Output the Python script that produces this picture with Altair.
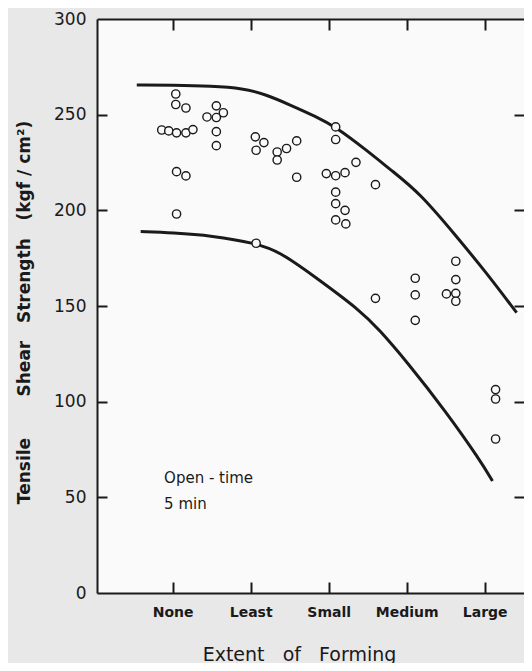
import altair as alt
import pandas as pd

# ---- data ----
categories = ["None", "Least", "Small", "Medium", "Large"]
cat_pos = [0, 1, 2, 3, 4]
y_tick_values = [0, 50, 100, 150, 200, 250, 300]
inner_y_ticks = [50, 100, 150, 200, 250]

pt_x = [0.04, 0.04, 0.17, 0.56, 0.65, 0.44, 0.56, -0.14, -0.05, 0.05, 0.17, 0.26,
        0.56, 0.56, 1.06, 1.17, 1.07, 1.34, 1.34, 1.46, 1.59, 1.59, 2.09, 2.09,
        2.35, 1.97, 2.09, 2.21, 2.60, 2.09, 2.09, 2.21, 2.09, 2.22, 0.05, 0.17,
        0.05, 1.07, 3.11, 3.11, 3.11, 3.63, 3.63, 3.51, 3.63, 3.63, 4.14, 4.14,
        4.14, 2.60]
pt_y = [260.8, 255.3, 253.5, 254.6, 251.0, 248.8, 248.5, 242.0, 241.5, 240.5, 240.5, 242.2,
        241.1, 233.8, 238.4, 235.4, 231.4, 230.5, 226.3, 232.3, 236.3, 217.3, 243.6, 237.0,
        225.1, 219.2, 218.1, 219.7, 213.4, 209.5, 203.5, 200.0, 195.0, 192.9, 220.2, 218.0,
        198.1, 182.8, 164.5, 155.8, 142.5, 173.4, 163.8, 156.3, 156.6, 152.5, 106.3, 101.4,
        80.5, 154.0]

upper_x = [-0.46, 0.0, 0.5, 0.9, 1.2, 1.5, 1.84, 2.09, 2.48, 2.8, 3.17, 3.64, 4.0, 4.41]
upper_y = [265.5, 265.4, 265.0, 263.8, 260.5, 255.2, 249.0, 243.6, 231.6, 221.0, 209.0, 186.3, 168.5, 146.5]

lower_x = [-0.41, 0.0, 0.5, 1.07, 1.37, 1.8, 2.40, 2.65, 3.0, 3.5, 3.94, 4.10]
lower_y = [188.9, 188.3, 186.8, 182.8, 178.4, 166.0, 147.9, 137.5, 121.0, 95.0, 69.5, 58.5]

note_lines = ["Open\u00a0-\u00a0time", "5\u00a0min"]
note_x = [-0.11, -0.11]
note_y = [57.5, 43.9]

x_title = "Extent\u00a0\u00a0 of\u00a0\u00a0 Forming"
y_title = "Tensile\u00a0\u00a0\u00a0\u00a0\u00a0\u00a0 Shear\u00a0\u00a0 Strength\u00a0\u00a0 (kgf / cm\u00b2)"

W, H = 427, 574
FONT = "DejaVu Sans"
INK = "#1a1a1a"

x_min, x_max = -0.97, -0.97 + W / 78.0
y_min, y_max = 0, 300

# ---- tables ----
pts = pd.DataFrame({"x": pt_x, "y": pt_y})
curves = pd.concat([
    pd.DataFrame({"x": upper_x, "y": upper_y, "c": "upper", "o": range(len(upper_x))}),
    pd.DataFrame({"x": lower_x, "y": lower_y, "c": "lower", "o": range(len(lower_x))}),
])
notes = pd.DataFrame({"x": note_x, "y": note_y, "t": note_lines})

xs = alt.Scale(domain=[x_min, x_max], nice=False, zero=False)
ys = alt.Scale(domain=[y_min, y_max], nice=False, zero=False)

label_expr = "[" + ",".join("'%s'" % c for c in categories) + "][datum.value]"

# main labelled axes (left and bottom frame lines)
x_axis = alt.Axis(orient="bottom", values=cat_pos, labelExpr=label_expr, ticks=False,
                  grid=False, domainColor=INK, domainWidth=2, labelFont=FONT,
                  labelFontSize=14, labelFontWeight="bold", labelColor=INK, labelPadding=12,
                  title=x_title, titleFont=FONT, titleFontSize=19, titleFontWeight="normal",
                  titleColor=INK, titleX=202, titleY=67, titleAlign="center",
                  titleBaseline="alphabetic", labelFlush=False)
y_axis = alt.Axis(orient="left", values=y_tick_values, ticks=False, grid=False,
                  domainColor=INK, domainWidth=2, labelFont=FONT, labelFontSize=17,
                  labelColor=INK, labelPadding=11, labelFlush=False, labelBaseline="middle",
                  title=y_title, titleFont=FONT, titleFontSize=17, titleFontWeight="bold",
                  titleColor=INK, titleX=-73, titleY=293, titleAngle=270,
                  titleAlign="center", titleBaseline="middle")

# tick-only axes moved across the plot so that their ticks point inward
tick_opts = dict(labels=False, grid=False, ticks=True, tickColor=INK, tickWidth=2, title="")
ax_bottom_in = alt.Axis(orient="top", offset=-H, values=cat_pos, tickSize=11,
                        domain=False, **tick_opts)
ax_left_in = alt.Axis(orient="right", offset=-W, values=inner_y_ticks, tickSize=10,
                      domain=False, **tick_opts)
ax_top_in = alt.Axis(orient="bottom", offset=-H, values=cat_pos, tickSize=11,
                     domain=True, domainColor=INK, domainWidth=2, **tick_opts)
ax_right_in = alt.Axis(orient="left", offset=-W, values=inner_y_ticks, tickSize=10,
                       domain=False, **tick_opts)

lines = alt.Chart(curves).mark_line(color=INK, strokeWidth=3, interpolate="basis").encode(
    x=alt.X("x:Q", scale=xs, axis=ax_bottom_in),
    y=alt.Y("y:Q", scale=ys, axis=ax_left_in),
    detail="c:N", order="o:Q",
)

text = alt.Chart(notes).mark_text(align="left", baseline="alphabetic", font=FONT,
                                  fontSize=15, color=INK).encode(
    x=alt.X("x:Q", scale=xs, axis=ax_top_in),
    y=alt.Y("y:Q", scale=ys, axis=ax_right_in),
    text="t:N",
)

points = alt.Chart(pts).mark_point(shape="circle", filled=True, fill="#fafafa", stroke=INK,
                                   strokeWidth=1.4, size=68, opacity=1).encode(
    x=alt.X("x:Q", scale=xs, axis=x_axis),
    y=alt.Y("y:Q", scale=ys, axis=y_axis),
)

chart = alt.layer(lines, text, points).resolve_axis(
    x="independent", y="independent"
).properties(
    width=W, height=H,
    autosize=alt.AutoSizeParams(type="none"),
    padding={"left": 89, "top": 11, "right": 0, "bottom": 70},
    background="#e8e8e8",
).configure_view(stroke=None, fill="#fafafa")

chart.save("out.html", embed_options={"renderer": "svg", "actions": False})
